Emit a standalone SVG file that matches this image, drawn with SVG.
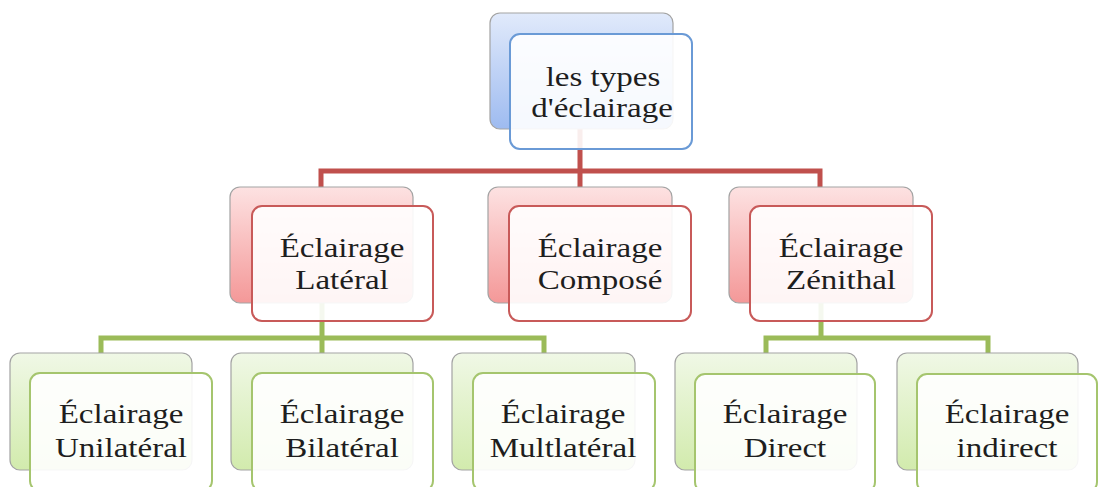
<svg xmlns="http://www.w3.org/2000/svg" width="1099" height="487" viewBox="0 0 1099 487">
  <defs>
    <linearGradient id="gBlue" x1="0" y1="0" x2="0" y2="1">
      <stop offset="0" stop-color="#e1eafb"/>
      <stop offset="1" stop-color="#9ebbf0"/>
    </linearGradient>
    <linearGradient id="gRed" x1="0" y1="0" x2="0" y2="1">
      <stop offset="0" stop-color="#fde2e2"/>
      <stop offset="1" stop-color="#f49898"/>
    </linearGradient>
    <linearGradient id="gGreen" x1="0" y1="0" x2="0" y2="1">
      <stop offset="0" stop-color="#f0f8e6"/>
      <stop offset="1" stop-color="#d2ebad"/>
    </linearGradient>
  </defs>
  <style>
    .back { stroke: #a3a3a3; stroke-width: 1.2; }
    .front { fill: #ffffff; fill-opacity: 0.9; stroke-width: 2; }
    .blue .back { fill: url(#gBlue); }
    .blue .front { stroke: #6a9ad6; }
    .red .back { fill: url(#gRed); }
    .red .front { stroke: #c85a59; }
    .green .back { fill: url(#gGreen); }
    .green .front { stroke: #a5c56e; }
    .lbl { font-family: "Liberation Serif", "Times New Roman", serif; font-size: 28px; fill: #1e1e1e; text-anchor: middle; }
    .link { fill: none; stroke-width: 5; stroke-linejoin: miter; stroke-linecap: butt; }
    .link.r { stroke: #c0504d; }
    .link.g { stroke: #9bbb59; }
  </style>

  <rect width="1099" height="487" fill="#ffffff"/>

  <!-- hierarchy connectors -->
  <g id="connectors">
    <path class="link r" d="M580,100 V171 M321,187 V171 H820 V187 M580,171 V187"/>
    <path class="link g" d="M322,280 V338 M101,353 V338 H544 V353 M322,338 V353"/>
    <path class="link g" d="M821,280 V338 M766,353 V338 H988 V353"/>
  </g>

  <!-- root -->
  <g id="root" class="blue">
    <rect class="back" x="490" y="13" width="183" height="116" rx="10"/>
    <rect class="front" x="510" y="34" width="182" height="115" rx="10"/>
    <text class="lbl" transform="translate(603,0) scale(1.18,1)" x="0" y="86">les types</text>
    <text class="lbl" transform="translate(602,0) scale(1.18,1)" x="0" y="117">d'éclairage</text>
  </g>

  <!-- second level -->
  <g id="lateral" class="red">
    <rect class="back" x="230" y="187" width="183" height="116" rx="10"/>
    <rect class="front" x="252" y="206" width="181" height="115" rx="10"/>
    <text class="lbl" transform="translate(342,0) scale(1.18,1)" x="0" y="257">Éclairage</text>
    <text class="lbl" transform="translate(342,0) scale(1.18,1)" x="0" y="289">Latéral</text>
  </g>
  <g id="compose" class="red">
    <rect class="back" x="488" y="187" width="184" height="116" rx="10"/>
    <rect class="front" x="509" y="206" width="182" height="115" rx="10"/>
    <text class="lbl" transform="translate(600,0) scale(1.18,1)" x="0" y="257">Éclairage</text>
    <text class="lbl" transform="translate(600,0) scale(1.18,1)" x="0" y="289">Composé</text>
  </g>
  <g id="zenithal" class="red">
    <rect class="back" x="729" y="187" width="184" height="116" rx="10"/>
    <rect class="front" x="750" y="206" width="182" height="115" rx="10"/>
    <text class="lbl" transform="translate(841,0) scale(1.18,1)" x="0" y="257">Éclairage</text>
    <text class="lbl" transform="translate(841,0) scale(1.18,1)" x="0" y="289">Zénithal</text>
  </g>

  <!-- third level -->
  <g id="unilateral" class="green">
    <rect class="back" x="10" y="353" width="182" height="117" rx="10"/>
    <rect class="front" x="30" y="373" width="182" height="118" rx="10"/>
    <text class="lbl" transform="translate(121,0) scale(1.18,1)" x="0" y="423">Éclairage</text>
    <text class="lbl" transform="translate(121,0) scale(1.18,1)" x="0" y="457">Unilatéral</text>
  </g>
  <g id="bilateral" class="green">
    <rect class="back" x="231" y="353" width="182" height="117" rx="10"/>
    <rect class="front" x="252" y="373" width="181" height="118" rx="10"/>
    <text class="lbl" transform="translate(342,0) scale(1.18,1)" x="0" y="423">Éclairage</text>
    <text class="lbl" transform="translate(342,0) scale(1.18,1)" x="0" y="457">Bilatéral</text>
  </g>
  <g id="multilateral" class="green">
    <rect class="back" x="452" y="353" width="183" height="117" rx="10"/>
    <rect class="front" x="473" y="373" width="182" height="118" rx="10"/>
    <text class="lbl" transform="translate(563,0) scale(1.18,1)" x="0" y="423">Éclairage</text>
    <text class="lbl" transform="translate(563,0) scale(1.18,1)" x="0" y="457">Multlatéral</text>
  </g>
  <g id="direct" class="green">
    <rect class="back" x="675" y="353" width="182" height="117" rx="10"/>
    <rect class="front" x="695" y="374" width="180" height="118" rx="10"/>
    <text class="lbl" transform="translate(785,0) scale(1.18,1)" x="0" y="423">Éclairage</text>
    <text class="lbl" transform="translate(785,0) scale(1.18,1)" x="0" y="457">Direct</text>
  </g>
  <g id="indirect" class="green">
    <rect class="back" x="897" y="353" width="181" height="117" rx="10"/>
    <rect class="front" x="917" y="374" width="180" height="118" rx="10"/>
    <text class="lbl" transform="translate(1007,0) scale(1.18,1)" x="0" y="423">Éclairage</text>
    <text class="lbl" transform="translate(1007,0) scale(1.18,1)" x="0" y="457">indirect</text>
  </g>
</svg>
